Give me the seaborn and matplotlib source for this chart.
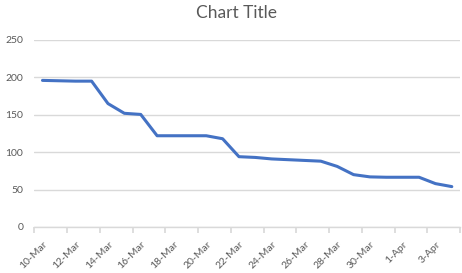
import matplotlib
matplotlib.use("Agg")
import matplotlib.pyplot as plt
import matplotlib.transforms as mtransforms
import seaborn as sns
import pandas as pd

dates = ["10-Mar", "11-Mar", "12-Mar", "13-Mar", "14-Mar", "15-Mar", "16-Mar", "17-Mar",
         "18-Mar", "19-Mar", "20-Mar", "21-Mar", "22-Mar", "23-Mar", "24-Mar", "25-Mar",
         "26-Mar", "27-Mar", "28-Mar", "29-Mar", "30-Mar", "31-Mar", "1-Apr", "2-Apr",
         "3-Apr", "4-Apr"]
values = [196, 195.5, 195, 195, 165, 152, 150.5, 122, 122, 122, 122, 118, 94, 93,
          91, 90, 89, 88, 81, 70, 67, 66.5, 66.5, 66.5, 58, 54]
tick_labels = ["10-Mar", "12-Mar", "14-Mar", "16-Mar", "18-Mar", "20-Mar", "22-Mar",
               "24-Mar", "26-Mar", "28-Mar", "30-Mar", "1-Apr", "3-Apr", ""]
y_ticks = [0, 50, 100, 150, 200, 250]

sns.set_theme(style="white")
plt.rcParams["font.family"] = ["Lato", "DejaVu Sans"]

df = pd.DataFrame({"date": dates, "value": values})
df["pos"] = range(len(df))

fig = plt.figure(figsize=(4.62, 2.73), dpi=100)
ax = fig.add_axes([34.3 / 462, (273 - 227) / 273, (460 - 34.3) / 462, (227 - 40) / 273])

sns.lineplot(data=df, x="pos", y="value", ax=ax, color="#4472C4", linewidth=2.2)

ax.set_xlim(-0.5, len(dates) - 0.5)
ax.set_ylim(0, 250)
ax.set_yticks(y_ticks)
ax.set_yticklabels([str(v) for v in y_ticks])
xt = [-0.5 + 2 * k for k in range(len(tick_labels))]
ax.set_xticks(xt)
ax.set_xticklabels(tick_labels, rotation=45, ha="right", va="top", rotation_mode="anchor")

ax.grid(axis="y", color="#D9D9D9", linewidth=1)
ax.set_axisbelow(True)
for s in ["top", "right", "left"]:
    ax.spines[s].set_visible(False)
ax.spines["bottom"].set_color("#D9D9D9")
ax.spines["bottom"].set_linewidth(1)
ax.tick_params(axis="x", which="major", bottom=True, length=4, color="#D9D9D9",
               labelsize=7.5, labelcolor="#595959", pad=5)
ax.tick_params(axis="y", left=False, length=0, labelsize=7.5, labelcolor="#595959", pad=8)
ax.set_xlabel("")
ax.set_ylabel("")

shift = mtransforms.ScaledTranslation(8.5 / 100, 0, fig.dpi_scale_trans)
for lbl in ax.get_xticklabels():
    lbl.set_transform(lbl.get_transform() + shift)

fig.text(236 / 462, 1 - 13 / 273, "Chart Title", ha="center", va="center",
         fontsize=12.5, color="#595959")

fig.savefig("out.png", dpi=100)
